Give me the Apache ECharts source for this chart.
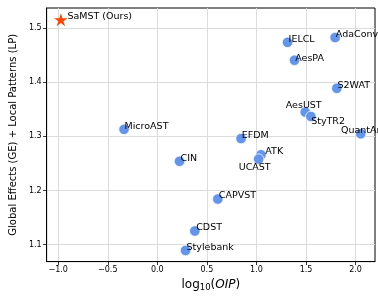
<!DOCTYPE html>
<html>
<head>
<meta charset="utf-8">
<script src="https://cdn.jsdelivr.net/npm/echarts@6/dist/echarts.min.js"></script>
<style>
  html, body { margin: 0; padding: 0; background: #fff; }
  #chart { width: 378px; height: 297px; }
</style>
</head>
<body>
<div id="chart"></div>
<script>
// methods, log10(OIP) vs GE+LP score
var methods = ['SaMST (Ours)', 'MicroAST', 'IELCL', 'AdaConv', 'AesPA', 'S2WAT', 'AesUST', 'StyTR2',
  'QuantArt', 'EFDM', 'CIN', 'ATK', 'UCAST', 'CAPVST', 'CDST', 'Stylebank']
var logOIP = [-0.973, -0.336, 1.314, 1.794, 1.384, 1.811, 1.492, 1.549,
  2.052, 0.845, 0.224, 1.046, 1.022, 0.610, 0.378, 0.285]
var geLp = [1.516, 1.313, 1.474, 1.483, 1.441, 1.389, 1.345, 1.337,
  1.305, 1.296, 1.254, 1.266, 1.258, 1.184, 1.125, 1.089]
var xTicks = [-1.0, -0.5, 0.0, 0.5, 1.0, 1.5, 2.0]
var yTicks = [1.1, 1.2, 1.3, 1.4, 1.5]
var ours = 'SaMST (Ours)'

// where each text sits relative to its marker
var labelPlace = {
  'SaMST (Ours)': ['left', [6.5, -3]],
  'MicroAST': ['left', [0.5, -3]],
  'IELCL': ['left', [1, -2.6]],
  'AdaConv': ['left', [0.7, -3.3]],
  'AesPA': ['left', [0.7, -2]],
  'S2WAT': ['left', [0.6, -2.4]],
  'AesUST': ['center', [-1.5, -6.3]],
  'StyTR2': ['left', [0.3, 5]],
  'QuantArt': ['left', [-19.7, -3.4]],
  'EFDM': ['left', [0.6, -2.7]],
  'CIN': ['left', [1, -2.6]],
  'ATK': ['left', [4.3, -3.6]],
  'UCAST': ['center', [-4, 8.3]],
  'CAPVST': ['left', [1, -3.6]],
  'CDST': ['left', [1.4, -3.3]],
  'Stylebank': ['left', [1, -3.3]]
}

var font = 'DejaVu Sans'
var star = 'path://M0,-1 L0.2245,-0.309 L0.951,-0.309 L0.363,0.118 L0.588,0.809 L0,0.382 L-0.588,0.809 L-0.363,0.118 L-0.951,-0.309 L-0.2245,-0.309 Z'

function makeItem(i) {
  var place = labelPlace[methods[i]]
  return {
    name: methods[i],
    value: [logOIP[i], geLp[i]],
    label: {
      show: true,
      position: 'inside',
      align: place[0],
      verticalAlign: 'middle',
      offset: place[1]
    }
  }
}

var oursData = []
var otherData = []
for (var i = 0; i < methods.length; i++) {
  if (methods[i] === ours) oursData.push(makeItem(i))
  else otherData.push(makeItem(i))
}

function fmt(v) {
  return (v < 0 ? '\u2212' : '') + Math.abs(v).toFixed(1)
}

var labelStyle = {
  formatter: '{b}',
  color: '#000',
  fontFamily: font,
  fontSize: 9.5
}

var chart = echarts.init(document.getElementById('chart'), null, { renderer: 'canvas' })
var option = {
  backgroundColor: '#fff',
  animation: false,
  grid: {
    left: 45.7, right: 3, top: 8, bottom: 27,
    show: true, borderColor: '#000', borderWidth: 1, backgroundColor: 'transparent'
  },
  xAxis: {
    type: 'value',
    min: -1.117,
    max: 2.196,
    name: '{a|log}{s|10}{a|(}{i|OIP}{a|)}',
    nameLocation: 'middle',
    nameGap: 16,
    nameTextStyle: {
      color: '#000',
      rich: {
        a: { fontFamily: font, fontSize: 12, color: '#000', lineHeight: 14 },
        s: { fontFamily: font, fontSize: 8.5, color: '#000', verticalAlign: 'bottom', lineHeight: 7 },
        i: { fontFamily: font, fontSize: 12, color: '#000', fontStyle: 'italic', lineHeight: 14 }
      }
    },
    axisLine: { show: true, onZero: false, lineStyle: { color: '#000', width: 1 } },
    axisTick: { show: true, inside: false, length: 3.5, customValues: xTicks, lineStyle: { color: '#000', width: 0.8 } },
    axisLabel: { customValues: xTicks, formatter: fmt, fontFamily: font, fontSize: 8, color: '#000', margin: 4.5 },
    splitLine: { show: true, lineStyle: { color: '#dcdcdc', width: 1 } }
  },
  yAxis: {
    type: 'value',
    min: 1.0683,
    max: 1.5376,
    name: 'Global Effects (GE) + Local Patterns (LP)',
    nameLocation: 'middle',
    nameGap: 21,
    nameTextStyle: { fontFamily: font, fontSize: 10, color: '#000' },
    axisLine: { show: true, onZero: false, lineStyle: { color: '#000', width: 1 } },
    axisTick: { show: true, inside: false, length: 3.5, customValues: yTicks, lineStyle: { color: '#000', width: 0.8 } },
    axisLabel: { customValues: yTicks, formatter: fmt, fontFamily: font, fontSize: 8, color: '#000', margin: 5 },
    splitLine: { show: true, lineStyle: { color: '#dcdcdc', width: 1 } }
  },
  series: [
    {
      name: 'others',
      type: 'scatter',
      symbol: 'circle',
      symbolSize: 10.5,
      itemStyle: { color: '#6495ED', borderColor: '#fff', borderWidth: 0.7, opacity: 1 },
      label: labelStyle,
      data: otherData,
      z: 3
    },
    {
      name: 'ours',
      type: 'scatter',
      symbol: star,
      symbolSize: [13.5, 13],
      itemStyle: { color: '#ff4500', opacity: 1 },
      label: labelStyle,
      data: oursData,
      z: 4
    }
  ]
}

if (option && typeof option === 'object') {
  chart.setOption(option)
}
</script>
</body>
</html>
